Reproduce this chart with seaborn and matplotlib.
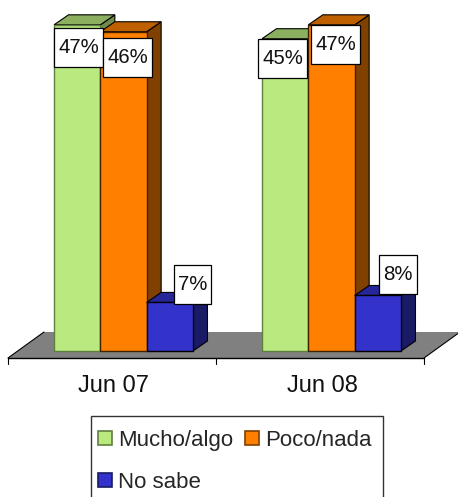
import matplotlib
matplotlib.use('Agg')
import matplotlib.pyplot as plt
import matplotlib.transforms as mtrans
from matplotlib.patches import Polygon, Rectangle
import pandas as pd
import seaborn as sns

periods = ['Jun 07', 'Jun 08']
series = ['Mucho/algo', 'Poco/nada', 'No sabe']
mucho = [47, 45]
poco = [46, 47]
no_sabe = [7, 8]

front = ['#B9E97F', '#FF8000', '#3333CC']
top = ['#8BAF5F', '#BF6000', '#262699']
side = ['#6F8C4C', '#804000', '#1A1A66']
edge = ['#5F7F40', '#402000', '#000000']
key_edge = ['#5F7F40', '#804000', '#1A1A66']

W, H = 458, 497
DX, DY = 14.5, 10     # depth of the bars, pixels
FX, FY = 36, 26       # depth of the floor, pixels
SHIFT = (-11.5, -7)   # front edge of the floor against the base of the bars

# where each value box sits against its bar, pixels (same order as the bars)
box_offset = [(1.5, -22.5), (-2.5, -19.5), (4, -25.5), (4, -19.5), (22.5, 17.5), (20, 20.5)]

sns.set_theme(style='white')
plt.rcParams['font.family'] = ['Liberation Sans', 'DejaVu Sans']

df = pd.DataFrame({
    'period': periods * 3,
    'serie': [s for s in series for _ in periods],
    'valor': mucho + poco + no_sabe,
})

fig = plt.figure(figsize=(W / 100, H / 100), dpi=100)
ax = fig.add_axes([19.5 / W, (H - 351) / H, 416 / W, 347 / H])
sns.barplot(data=df, x='period', y='valor', hue='serie', order=periods,
            hue_order=series, palette=front, width=0.668, gap=0, saturation=1,
            ax=ax, legend=True, clip_on=False)
ax.set_xlim(-0.5, 1.5)
ax.set_ylim(0, 50)
ax.set_xlabel('')
ax.set_ylabel('')
ax.set_yticks([])
sns.despine(ax=ax, left=True, bottom=True)

# floor
to_px = ax.transData
x0, _ = to_px.transform((-0.5, 0))
x1, y0 = to_px.transform((1.5, 0))
x0, x1, y0 = x0 + SHIFT[0], x1 + SHIFT[0], y0 + SHIFT[1]
ident = mtrans.IdentityTransform()
ax.add_patch(Polygon([(x0, y0), (x1, y0), (x1 + FX, y0 + FY), (x0 + FX, y0 + FY)],
                     closed=True, fc='#808080', ec='none', transform=ident,
                     zorder=0.5, clip_on=False))
ax.plot([x0, x1], [y0, y0], color='black', lw=1, transform=ident, zorder=0.6, clip_on=False)
ax.plot([x0, x0 + FX], [y0, y0 + FY], color='black', lw=0.8, transform=ident, zorder=0.6, clip_on=False)
ax.plot([x1, x1 + FX], [y0, y0 + FY], color='black', lw=0.8, transform=ident, zorder=0.6, clip_on=False)
for t in (-0.5, 0.5, 1.5):
    tx = to_px.transform((t, 0))[0] + SHIFT[0]
    ax.plot([tx, tx], [y0, y0 - 6], color='black', lw=0.8, transform=ident, clip_on=False)

ax.set_xticks([0, 1], periods)
ax.tick_params(axis='x', length=0, pad=17, labelsize=17, colors='#111111')
for lab in ax.get_xticklabels():
    lab.set_transform(lab.get_transform() + mtrans.Affine2D().translate(-9.5, 0))

# bars as boxes, left to right so that each one covers the side of the one before
bars = [b for c in ax.containers for b in c]
order = sorted(range(len(bars)), key=lambda i: bars[i].get_x())
renderer = fig.canvas.get_renderer()
for z, i in enumerate(order):
    b = bars[i]
    k = i // 2
    (xa, ya), (xb, yb) = to_px.transform([(b.get_x(), 0), (b.get_x() + b.get_width(), b.get_height())])
    zb = 2 + z
    ax.add_patch(Polygon([(xb, ya), (xb + DX, ya + DY), (xb + DX, yb + DY), (xb, yb)], closed=True,
                         fc=side[k], ec='black', lw=0.8, transform=ident, zorder=zb, clip_on=False))
    ax.add_patch(Polygon([(xa, yb), (xb, yb), (xb + DX, yb + DY), (xa + DX, yb + DY)], closed=True,
                         fc=top[k], ec='black', lw=0.8, transform=ident, zorder=zb, clip_on=False))
    b.set_zorder(zb + 0.5)
    b.set_edgecolor(edge[k])
    b.set_linewidth(1)

# value boxes
for i, b in enumerate(bars):
    cx, cy = to_px.transform((b.get_x() + b.get_width() / 2, b.get_height()))
    ox, oy = box_offset[i]
    cx, cy = cx + ox, cy + oy
    txt = ax.text(cx, cy, '%d%%' % b.get_height(), ha='center', va='center', fontsize=14.7,
                  color='#111111', transform=ident, zorder=21, clip_on=False)
    w = txt.get_window_extent(renderer).width + 8
    ax.add_patch(Rectangle((cx - w / 2, cy - 19.5), w, 39, fc='white', ec='black', lw=0.9,
                           transform=ident, zorder=20, clip_on=False))

# legend, its frame runs off the bottom of the picture
handles, labels = ax.get_legend_handles_labels()
leg = ax.legend([handles[0], handles[2], handles[1]], [labels[0], labels[2], labels[1]], ncol=2,
                loc='upper left', bbox_to_anchor=(98 / W, (H - 430) / H), bbox_transform=fig.transFigure,
                fontsize=16, frameon=False, handlelength=0.62, handleheight=0.62, handletextpad=0.27,
                columnspacing=0.55, labelspacing=0.95, borderpad=0, borderaxespad=0)
for h, c in zip(leg.legend_handles, [key_edge[0], key_edge[2], key_edge[1]]):
    h.set_edgecolor(c)
    h.set_linewidth(1.2)
fig.add_artist(Rectangle((91, -10), 292, H - 416 + 10, fc='none', ec='#333333', lw=1,
                         transform=ident, clip_on=False))

fig.savefig('out.png', dpi=100)
